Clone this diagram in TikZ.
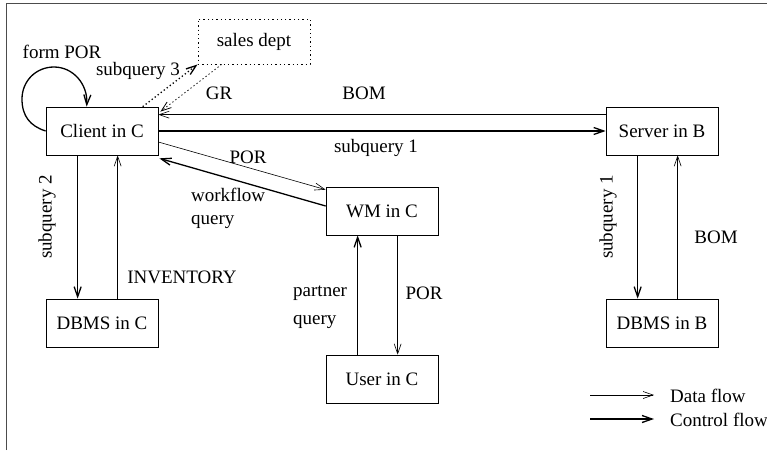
\documentclass[tikz,border=0pt]{standalone}
\usepackage{fontspec}
\setmainfont{Liberation Serif}
\usetikzlibrary{arrows.meta,calc}
\begin{document}
\begin{tikzpicture}[x=1pt,y=-1pt,
  every node/.style={font=\fontsize{19}{23}\selectfont, inner sep=0pt},
  box/.style={draw, line width=0.7pt, minimum width=112pt, minimum height=48pt},
  dbox/.style={draw, line width=0.8pt, dash pattern=on 1.3pt off 3pt, minimum width=112pt, minimum height=45pt},
  dataflow/.style={line width=0.6pt, -{Straight Barb[length=10pt,width=7pt]}},
  ctrlflow/.style={line width=1.3pt, -{Straight Barb[length=10pt,width=7pt]}},
  dotdata/.style={line width=0.8pt, dash pattern=on 1.3pt off 2.5pt, -{Straight Barb[length=10pt,width=7pt]}},
  dotctrl/.style={line width=1.3pt, dash pattern=on 1.3pt off 2.5pt, -{Straight Barb[length=10pt,width=7pt]}},
  lbl/.style={}]
\useasboundingbox (0,0) rectangle (767,450);
\draw[line width=1pt, black!70] (6,450) -- (6,3) -- (767,3);

\node[box]  (client) at (102,131) {Client in C};
\node[dbox] (sales)  at (254,41.5) {sales dept};
\node[box]  (server) at (662,131) {Server in B};
\node[box]  (wm)     at (382,211) {WM in C};
\node[box]  (dbmsc)  at (102,323) {DBMS in C};
\node[box]  (user)   at (382,379) {User in C};
\node[box]  (dbmsb)  at (662,323) {DBMS in B};

% loop
\draw[ctrlflow] (client.west) .. controls (30,126) and (22,116) .. (22,99)
  .. controls (22,81) and (36,67) .. (54,67)
  .. controls (73,67) and (88,84) .. ($(client.north west)+(41,0)$);
\node (lformpor) at (62,52) {form POR};

% sales dept
\draw[dotctrl] ($(client.north west)+(97,0)$) -- (sales.south west);
\draw[dotdata] ($(sales.south west)+(24,0)$) -- ($(client.north east)+(2,5)$);
\node (lsub3) at (138,71) {subquery 3};
\node (lgr) at (219,93) {GR};

% client - server
\draw[dataflow] ($(server.north west)+(0,8)$) -- ($(client.north east)+(0,8)$);
\draw[ctrlflow] (client.east) -- (server.west);
\node (lbom1) at (364,93) {BOM};
\node (lsub1) at (376,148) {subquery 1};

% client - wm
\draw[dataflow] ($(client.east)+(0,11)$) -- ($(wm.north west)+(0,3)$);
\draw[ctrlflow] ($(wm.west)+(0,-5)$) -- ($(client.south east)+(1,3)$);
\node (lpor1) at (248,157) {POR};
\node[anchor=west, align=left] (lwf) at (191,208) {workflow\\query};

% client - dbms c
\draw[ctrlflow] ($(client.south west)+(32,0)$) -- ($(dbmsc.north west)+(32,0)$);
\draw[dataflow] ($(dbmsc.north west)+(72,0)$) -- ($(client.south west)+(72,0)$);
\node[rotate=90] (lsub2) at (47,217) {subquery 2};
\node (linv) at (182,277) {INVENTORY};

% wm - user
\draw[ctrlflow] ($(user.north west)+(32,0)$) -- ($(wm.south west)+(32,0)$);
\draw[dataflow] ($(wm.south west)+(72,0)$) -- ($(user.north west)+(72,0)$);
\node[anchor=west] (lpartner) at (293,293) {partner};
\node[anchor=west] (lquery) at (293,322) {query};
\node (lpor2) at (424,293) {POR};

% server - dbms b
\draw[ctrlflow] ($(server.south west)+(32,0)$) -- ($(dbmsb.north west)+(32,0)$);
\draw[dataflow] ($(dbmsb.north west)+(72,0)$) -- ($(server.south west)+(72,0)$);
\node[rotate=90] (lsub1b) at (608,217) {subquery 1};
\node (lbom2) at (716,237) {BOM};

% legend
\coordinate (d1) at (590,395);
\coordinate (d2) at (654,395);
\coordinate (c1) at (590,419);
\coordinate (c2) at (654,419);
\draw[dataflow] (d1) -- (d2);
\draw[ctrlflow] (c1) -- (c2);
\node[anchor=west] (ldata) at (670,396) {Data flow};
\node[anchor=west] (lctrl) at (670,420) {Control flow};
\end{tikzpicture}
\end{document}
